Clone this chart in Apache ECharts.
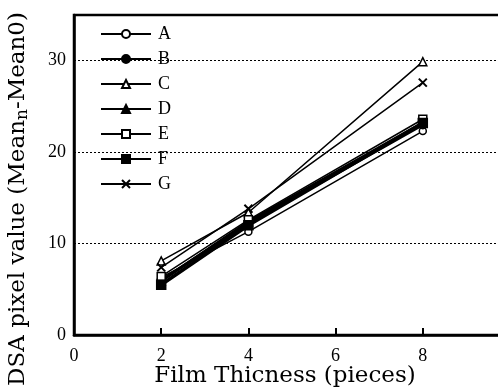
<!DOCTYPE html>
<html>
<head>
<meta charset="utf-8">
<script src="https://cdn.jsdelivr.net/npm/echarts@6/dist/echarts.min.js"></script>
<style>
  html, body { margin: 0; padding: 0; background: #fff; overflow: hidden; }
  #chart { width: 520px; height: 391px; }
</style>
</head>
<body>
<div id="chart"></div>
<script>
const thickness = [2, 4, 8];
const seriesNames = ['A', 'B', 'C', 'D', 'E', 'F', 'G'];
const valuesA = [6.3, 11.3, 22.3];
const valuesB = [6.0, 12.2, 23.0];
const valuesC = [8.1, 13.4, 29.9];
const valuesD = [5.9, 12.4, 23.2];
const valuesE = [6.4, 12.6, 23.6];
const valuesF = [5.5, 12.0, 23.2];
const valuesG = [7.4, 13.8, 27.6];
const xTicks = [0, 2, 4, 6, 8];
const yTicks = [0, 10, 20, 30];

const seriesValues = [valuesA, valuesB, valuesC, valuesD, valuesE, valuesF, valuesG];
// symbol / thickness per series
const looks = [
    { symbol: 'circle', fill: '#fff', width: 1.5, size: 7 },
    { symbol: 'circle', fill: '#000', width: 3, size: 8 },
    { symbol: 'triangle', fill: '#fff', width: 1.5, size: 8 },
    { symbol: 'triangle', fill: '#000', width: 3, size: 8 },
    { symbol: 'rect', fill: '#fff', width: 1.5, size: 8 },
    { symbol: 'rect', fill: '#000', width: 3.5, size: 9 },
    { symbol: 'path://M0,0L10,10M10,0L0,10', fill: '#000', width: 1.5, size: 8 }
];

const serif = 'Liberation Serif';
const wideSerif = 'DejaVu Serif';
// the chart is a bit wider than the window, right edge of the plot is cut off like the scan
let chart = echarts.init(document.getElementById('chart'), null, { renderer: 'canvas' });

let series = seriesNames.map((name, i) => ({
    name,
    type: 'line',
    data: thickness.map((x, j) => [x, seriesValues[i][j]]),
    symbol: looks[i].symbol,
    symbolSize: looks[i].size,
    showAllSymbol: true,
    lineStyle: { color: '#000', width: looks[i].width },
    itemStyle: { color: looks[i].fill, borderColor: '#000', borderWidth: i == 6 ? 2 : 1.5 },
    z: 3
}));

let options = {
    animation: false,
    backgroundColor: '#fff',
    grid: {
        left: 74,
        top: 15,
        right: 10,
        bottom: 56,
        outerBoundsMode: 'none',
        containLabel: false,
        show: true,
        borderColor: '#000',
        borderWidth: 2.5
    },
    legend: {
        orient: 'vertical',
        left: 95,
        top: 20,
        itemWidth: 50,
        itemHeight: 10,
        itemGap: 7,
        data: seriesNames,
        textStyle: { fontFamily: serif, fontSize: 18, color: '#000', padding: [0, 0, 0, 2] }
    },
    xAxis: {
        type: 'value',
        min: 0,
        max: 10,
        interval: 2,
        name: 'Film Thicness (pieces)',
        nameLocation: 'middle',
        nameGap: 30,
        nameMoveOverlap: false,
        nameTextStyle: { fontFamily: wideSerif, fontSize: 23, color: '#000', padding: [0, 14, 0, 0] },
        axisLine: { lineStyle: { color: '#000', width: 2.5 } },
        axisTick: { inside: true, length: 7, lineStyle: { color: '#000', width: 2 } },
        axisLabel: {
            fontFamily: serif, fontSize: 18, color: '#000', margin: 12,
            formatter: v => xTicks.includes(v) ? String(v) : ''
        },
        splitLine: { show: false }
    },
    yAxis: {
        type: 'value',
        min: 0,
        max: 35,
        interval: 10,
        name: '{n|DSA pixel value (Mean}{s|n}{n|-Mean}{n|0}{n|)}',
        nameLocation: 'middle',
        nameGap: 43,
        nameTextStyle: {
            padding: [0, 48, 0, 0],
            rich: {
                n: { fontFamily: wideSerif, fontSize: 23, color: '#000' },
                s: { fontFamily: wideSerif, fontSize: 17, color: '#000', verticalAlign: 'bottom', padding: [9, 0, 0, 0] }
            }
        },
        axisLine: { lineStyle: { color: '#000', width: 2.5 } },
        axisTick: { show: false },
        axisLabel: {
            fontFamily: serif, fontSize: 18, color: '#000', margin: 8,
            formatter: v => yTicks.includes(v) ? String(v) : ''
        },
        splitLine: { lineStyle: { color: '#000', type: [2, 2], width: 1 } }
    },
    series
};

chart.setOption(options);
</script>
</body>
</html>
